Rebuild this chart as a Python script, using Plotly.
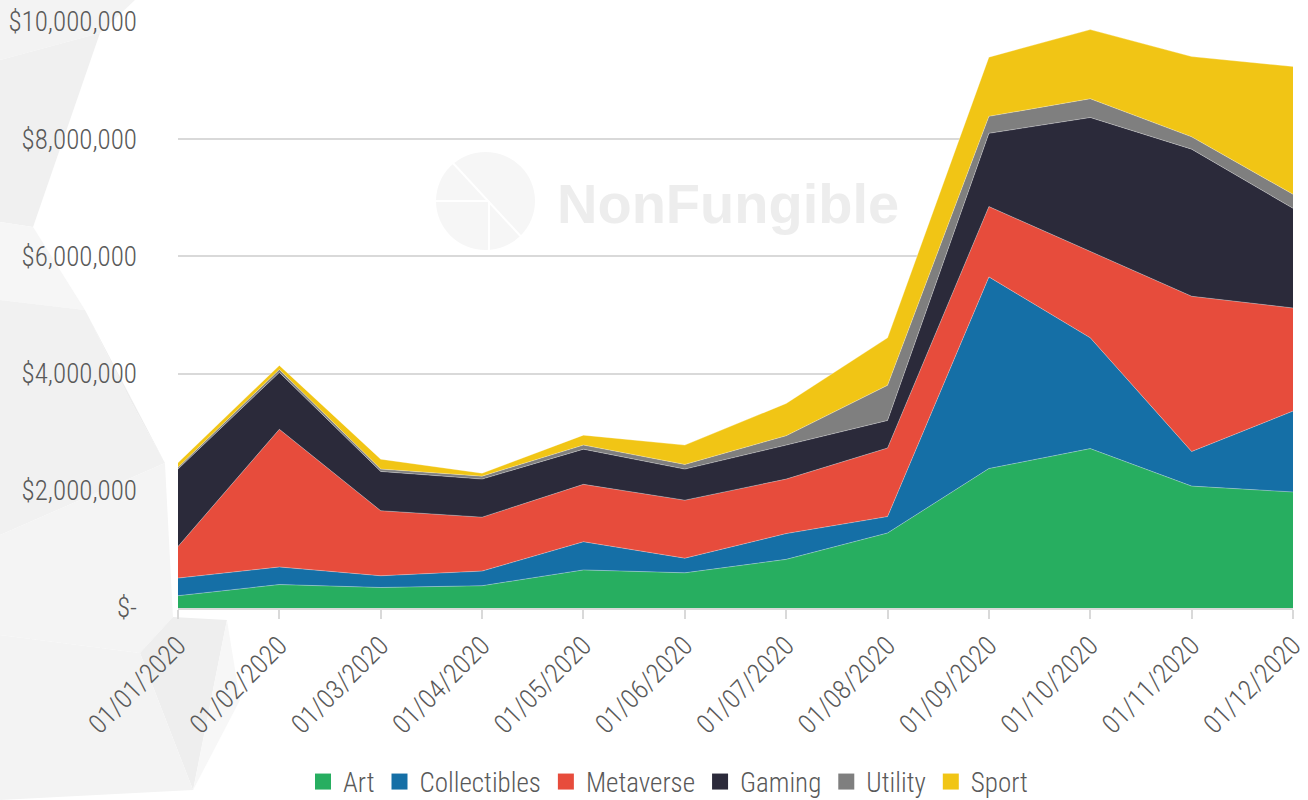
import plotly.graph_objects as go

months = ["01/01/2020", "01/02/2020", "01/03/2020", "01/04/2020", "01/05/2020", "01/06/2020",
          "01/07/2020", "01/08/2020", "01/09/2020", "01/10/2020", "01/11/2020", "01/12/2020"]

art = [210000, 400000, 350000, 380000, 650000, 600000, 830000, 1280000, 2380000, 2720000, 2080000, 1980000]
collectibles = [300000, 300000, 200000, 250000, 480000, 250000, 440000, 280000, 3270000, 1890000, 590000, 1380000]
metaverse = [540000, 2350000, 1110000, 920000, 980000, 990000, 930000, 1170000, 1200000, 1480000, 2650000, 1760000]
gaming = [1320000, 970000, 670000, 650000, 600000, 530000, 580000, 470000, 1250000, 2280000, 2510000, 1700000]
utility = [30000, 50000, 40000, 50000, 70000, 80000, 160000, 600000, 290000, 320000, 210000, 240000]
sport = [80000, 70000, 170000, 50000, 170000, 330000, 550000, 810000, 1010000, 1180000, 1370000, 2180000]

series = [
    ("Art", art, "#27AE60"),
    ("Collectibles", collectibles, "#156FA6"),
    ("Metaverse", metaverse, "#E74C3C"),
    ("Gaming", gaming, "#2B2A3A"),
    ("Utility", utility, "#7F7F7F"),
    ("Sport", sport, "#F1C515"),
]

y_ticks = [0, 2000000, 4000000, 6000000, 8000000, 10000000]
y_labels = ["$-", "$2,000,000", "$4,000,000", "$6,000,000", "$8,000,000", "$10,000,000"]

FONT = "Roboto Condensed, Liberation Sans Narrow, Arial Narrow, sans-serif"
FS = 27
TXT = "#595959"

fig = go.Figure()
for name, vals, col in series:
    fig.add_trace(go.Scatter(
        x=months, y=vals, name=name, mode="lines", showlegend=False,
        stackgroup="one", line=dict(width=0.6, color="rgba(255,255,255,0.5)"),
        fillcolor=col, hoverinfo="x+y+name",
    ))
# legend entries with square swatches
for name, vals, col in series:
    fig.add_trace(go.Scatter(
        x=[None], y=[None], name=name, mode="markers",
        marker=dict(symbol="square", size=16, color=col), showlegend=True,
    ))

W, H = 1308, 800
L, R, T, B = 178, 1293, 22, 608


def px(x, y):
    return (x - L) / (R - L), (B - y) / (B - T)


def poly(points, color):
    pts = [px(x, y) for x, y in points]
    path = "M " + " L ".join(f"{a:.4f},{b:.4f}" for a, b in pts) + " Z"
    return dict(type="path", path=path, xref="paper", yref="paper",
                fillcolor=color, line=dict(width=0), layer="below")


def seg(p0, p1, color="white", width=2):
    a, b = px(*p0)
    c, d = px(*p1)
    return dict(type="line", xref="paper", yref="paper", x0=a, y0=b, x1=c, y1=d,
                line=dict(color=color, width=width), layer="below")


shapes = [
    poly([(0, 0), (135, 0), (100, 33), (0, 60)], "#F3F3F3"),
    poly([(0, 60), (100, 33), (33, 227), (0, 222)], "#F0F0F0"),
    poly([(0, 222), (33, 227), (85, 310), (0, 300)], "#F6F6F6"),
    poly([(0, 300), (85, 310), (130, 400), (165, 463), (0, 535)], "#F1F1F1"),
    poly([(85, 310), (130, 400), (165, 463)], "#EDEDED"),
    poly([(0, 535), (165, 463), (173, 617), (140, 653), (0, 635)], "#F4F4F4"),
    poly([(140, 653), (173, 617), (227, 620), (193, 790)], "#EEEEEE"),
    poly([(0, 635), (140, 653), (193, 790), (0, 800)], "#F3F3F3"),
    poly([(193, 790), (227, 620), (240, 700)], "#F7F7F7"),
    # watermark logo
    dict(type="circle", xref="paper", yref="paper",
         x0=px(436, 0)[0], x1=px(535, 0)[0], y0=px(0, 250)[1], y1=px(0, 152)[1],
         fillcolor="#F6F6F6", line=dict(width=0), layer="below"),
    seg((436, 201), (489, 201)),
    seg((489, 201), (489, 252)),
    seg((452, 162), (526, 242)),
]

fig.update_layout(
    width=W, height=H,
    margin=dict(l=L, r=W - R, t=T, b=H - B, pad=0),
    paper_bgcolor="white", plot_bgcolor="rgba(0,0,0,0)",
    font=dict(family=FONT, color=TXT, size=FS, weight=300),
    showlegend=True,
    legend=dict(orientation="h", x=px(668, 0)[0], xanchor="center",
                yref="container", y=(H - 782) / H, yanchor="middle",
                font=dict(size=FS, color=TXT, family=FONT, weight=300), itemwidth=30,
                traceorder="normal", bgcolor="rgba(0,0,0,0)"),
    xaxis=dict(type="category", range=[0, 11], showgrid=False, showline=True, automargin=False,
               linecolor="#D9D9D9", linewidth=2, ticks="outside", ticklen=9,
               tickcolor="#D9D9D9", tickwidth=1.5, tickangle=-45,
               tickfont=dict(size=FS, color=TXT, family=FONT, weight=300)),
    yaxis=dict(range=[0, 10000000], tickvals=y_ticks, ticktext=y_labels, automargin=False,
               showgrid=True, gridcolor="#D9D9D9", gridwidth=2, zeroline=False,
               ticks="", ticklabelstandoff=40,
               tickfont=dict(size=FS, color=TXT, family=FONT, weight=300)),
    shapes=shapes,
    annotations=[
        dict(text="<b>NonFungible</b>", x=px(728, 203)[0], y=px(728, 203)[1],
             xref="paper", yref="paper", showarrow=False, xanchor="center", yanchor="middle",
             font=dict(size=56, color="#EDEDED", family="Liberation Sans, Arial, sans-serif")),
    ],
)

fig.write_html("out.html", config={"displayModeBar": False},
               post_script="document.body.style.margin='0';")
